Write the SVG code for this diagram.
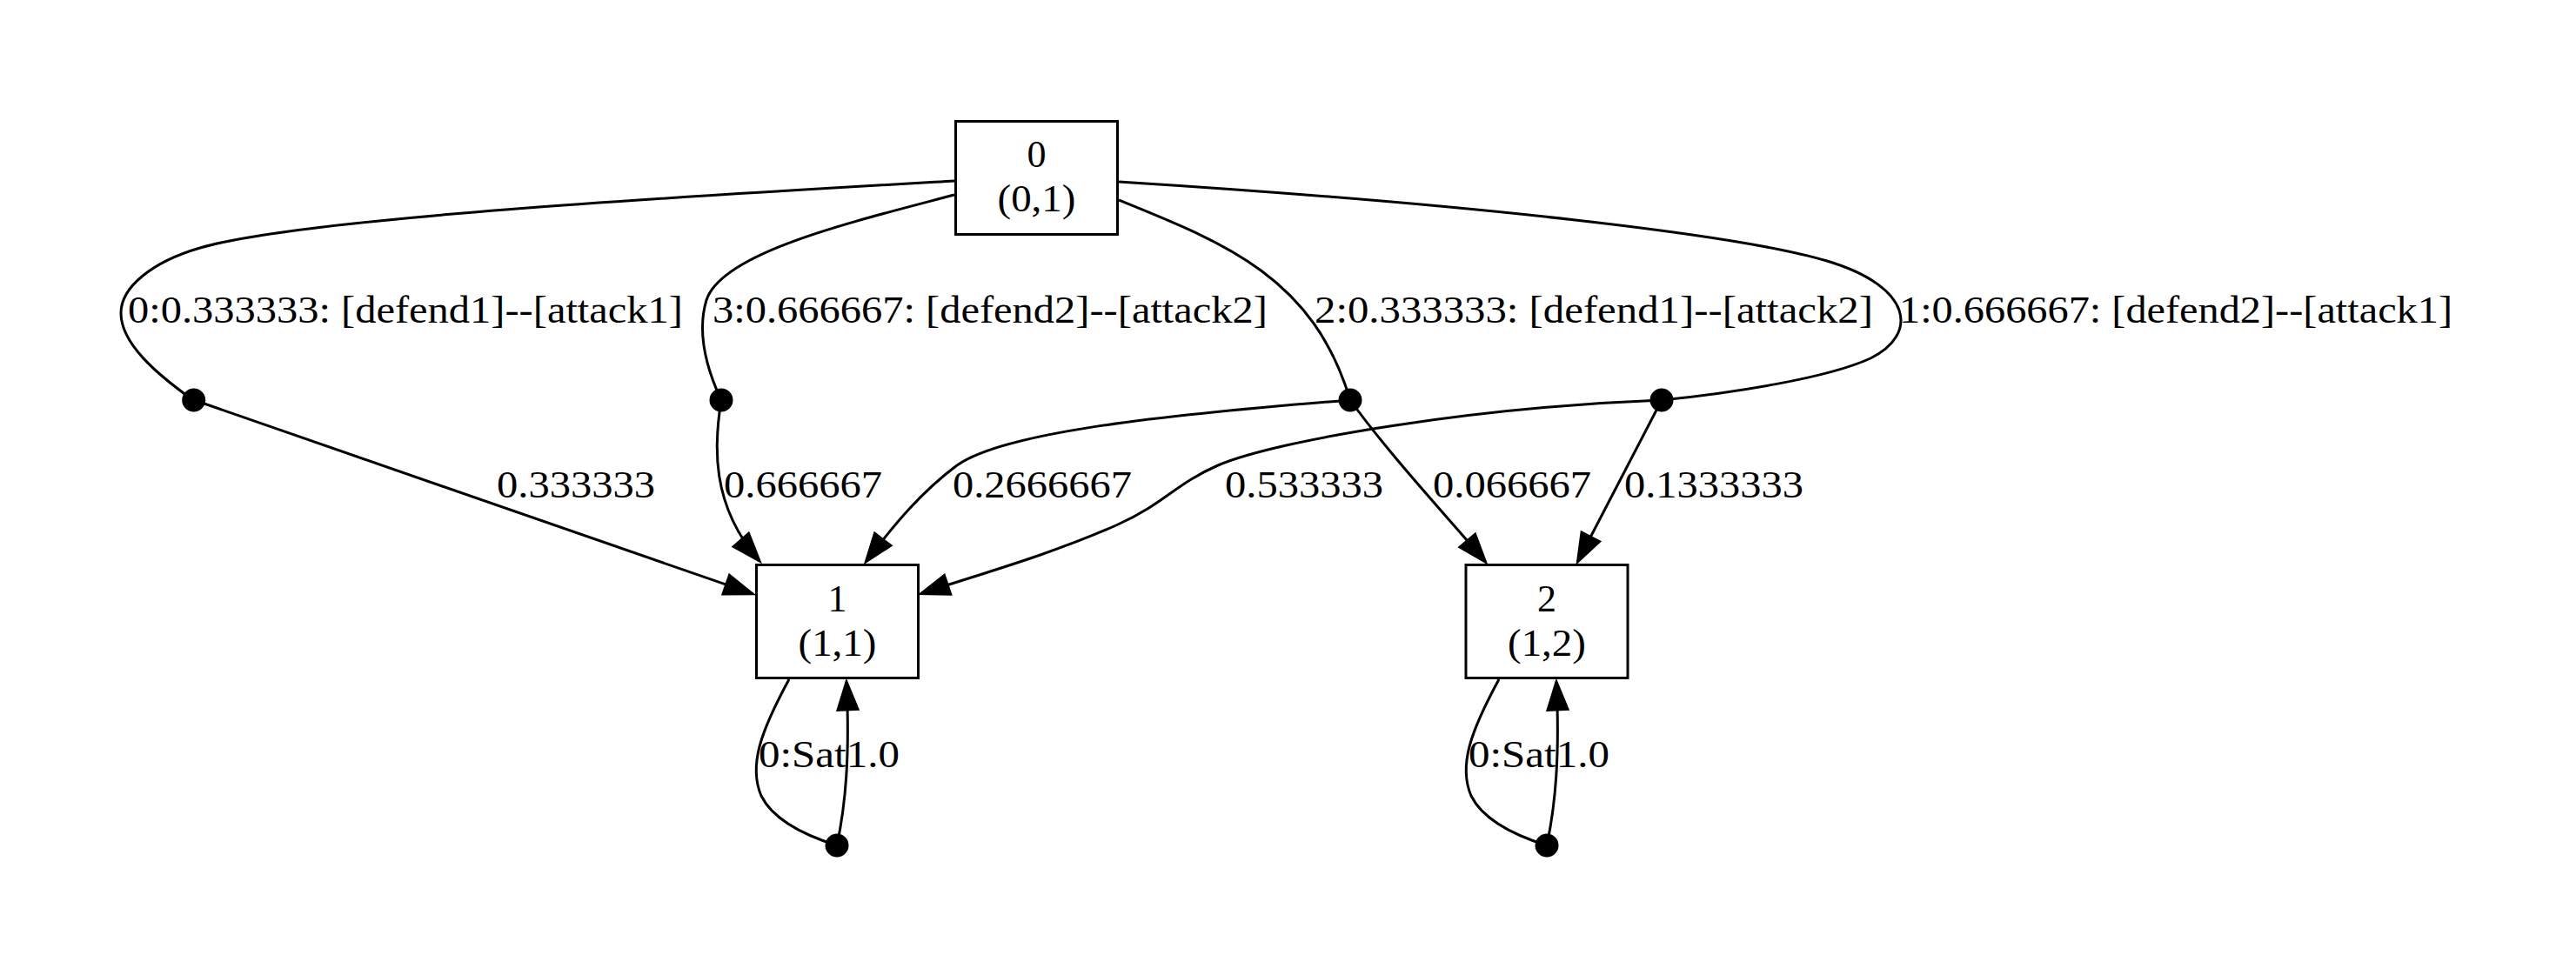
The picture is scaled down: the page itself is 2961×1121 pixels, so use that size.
<svg xmlns="http://www.w3.org/2000/svg" width="2961" height="1121" viewBox="0 0 2961 1121">
<defs>
<style>
text{font-family:"Liberation Serif","Times New Roman",serif;font-size:44px;fill:#000}
.n rect{fill:none;stroke:#000;stroke-width:3}
.n text{text-anchor:middle}
.e path{fill:none;stroke:#000;stroke-width:3}
.e .a{marker-end:url(#ah)}
.dot{fill:#000}
</style>
<marker id="ah" markerUnits="userSpaceOnUse" markerWidth="40" markerHeight="30" refX="32" refY="0" orient="auto" overflow="visible">
<path d="M0,-11.5 L32,0 L0,11.5 z" fill="#000" stroke="#000" stroke-width="3"/>
</marker>
</defs>
<rect x="0" y="0" width="2961" height="1121" fill="#fff"/>
<g id="edges" class="e">
<path d="M1097,208 C800,225 350,250 230,285 C175,301 139,330 139,360 C139,395 180,430 222,460"/>
<path class="a" d="M223,460 L865,682.7"/>
<path d="M1097,224 C980,255 830,290 812,345 C800,385 815,430 829,460"/>
<path class="a" d="M829,460 C821,510 816,580 873,645"/>
<path d="M1286,230 C1410,280 1510,320 1552,460"/>
<path class="a" d="M1552,460 C1300,480 1150,500 1100,535 C1060,565 1030,600 995.4,645.8"/>
<path class="a" d="M1552,460 C1595,520 1660,590 1707.5,646"/>
<path d="M1286,209 C1700,235 2000,270 2100,300 C2200,330 2205,385 2150,412 C2100,435 1990,452 1910,460"/>
<path class="a" d="M1910,460 C1700,468 1470,505 1400,535 C1350,557 1340,578 1285,603 C1210,637 1120,662 1058.7,682.5"/>
<path class="a" d="M1910,460 L1813.5,645.8"/>
<path d="M907,781 C875,840 860,880 875,915 C890,945 930,962 962,972"/>
<path class="a" d="M962,972 C972,925 977,870 973,784"/>
<path d="M1723,781 C1691,840 1676,880 1691,915 C1706,945 1746,962 1778,972"/>
<path class="a" d="M1778,972 C1788,925 1793,870 1789,784"/>
<text x="147" y="371" textLength="638" lengthAdjust="spacingAndGlyphs">0:0.333333: [defend1]--[attack1]</text>
<text x="819" y="371" textLength="638" lengthAdjust="spacingAndGlyphs">3:0.666667: [defend2]--[attack2]</text>
<text x="1511" y="371" textLength="642" lengthAdjust="spacingAndGlyphs">2:0.333333: [defend1]--[attack2]</text>
<text x="2183" y="371" textLength="636" lengthAdjust="spacingAndGlyphs">1:0.666667: [defend2]--[attack1]</text>
<text x="571" y="572" textLength="182" lengthAdjust="spacingAndGlyphs">0.333333</text>
<text x="832" y="572" textLength="182" lengthAdjust="spacingAndGlyphs">0.666667</text>
<text x="1095" y="572" textLength="206" lengthAdjust="spacingAndGlyphs">0.2666667</text>
<text x="1408" y="572" textLength="182" lengthAdjust="spacingAndGlyphs">0.533333</text>
<text x="1647" y="572" textLength="182" lengthAdjust="spacingAndGlyphs">0.066667</text>
<text x="1867" y="572" textLength="206" lengthAdjust="spacingAndGlyphs">0.1333333</text>
<text x="872" y="882" textLength="162" lengthAdjust="spacingAndGlyphs">0:Sat1.0</text>
<text x="1688" y="882" textLength="162" lengthAdjust="spacingAndGlyphs">0:Sat1.0</text>
</g>
<g id="node0" class="n">
<rect x="1098.5" y="139.5" width="186" height="130"/>
<text x="1191.5" y="192">0</text>
<text x="1191.5" y="243" textLength="90" lengthAdjust="spacingAndGlyphs">(0,1)</text>
</g>
<g id="node1" class="n">
<rect x="869.5" y="649.5" width="186" height="130"/>
<text x="962.5" y="703">1</text>
<text x="962.5" y="754" textLength="90" lengthAdjust="spacingAndGlyphs">(1,1)</text>
</g>
<g id="node2" class="n">
<rect x="1685" y="649.5" width="186" height="130"/>
<text x="1778" y="703">2</text>
<text x="1778" y="754" textLength="90" lengthAdjust="spacingAndGlyphs">(1,2)</text>
</g>
<g id="choice_a" class="dot"><circle cx="222.7" cy="460" r="13.5"/></g>
<g id="choice_b" class="dot"><circle cx="829" cy="460" r="13.5"/></g>
<g id="choice_c" class="dot"><circle cx="1552" cy="460" r="13.5"/></g>
<g id="choice_d" class="dot"><circle cx="1910" cy="460" r="13.5"/></g>
<g id="choice_e" class="dot"><circle cx="962" cy="972" r="13.5"/></g>
<g id="choice_f" class="dot"><circle cx="1778" cy="972" r="13.5"/></g>
</svg>
